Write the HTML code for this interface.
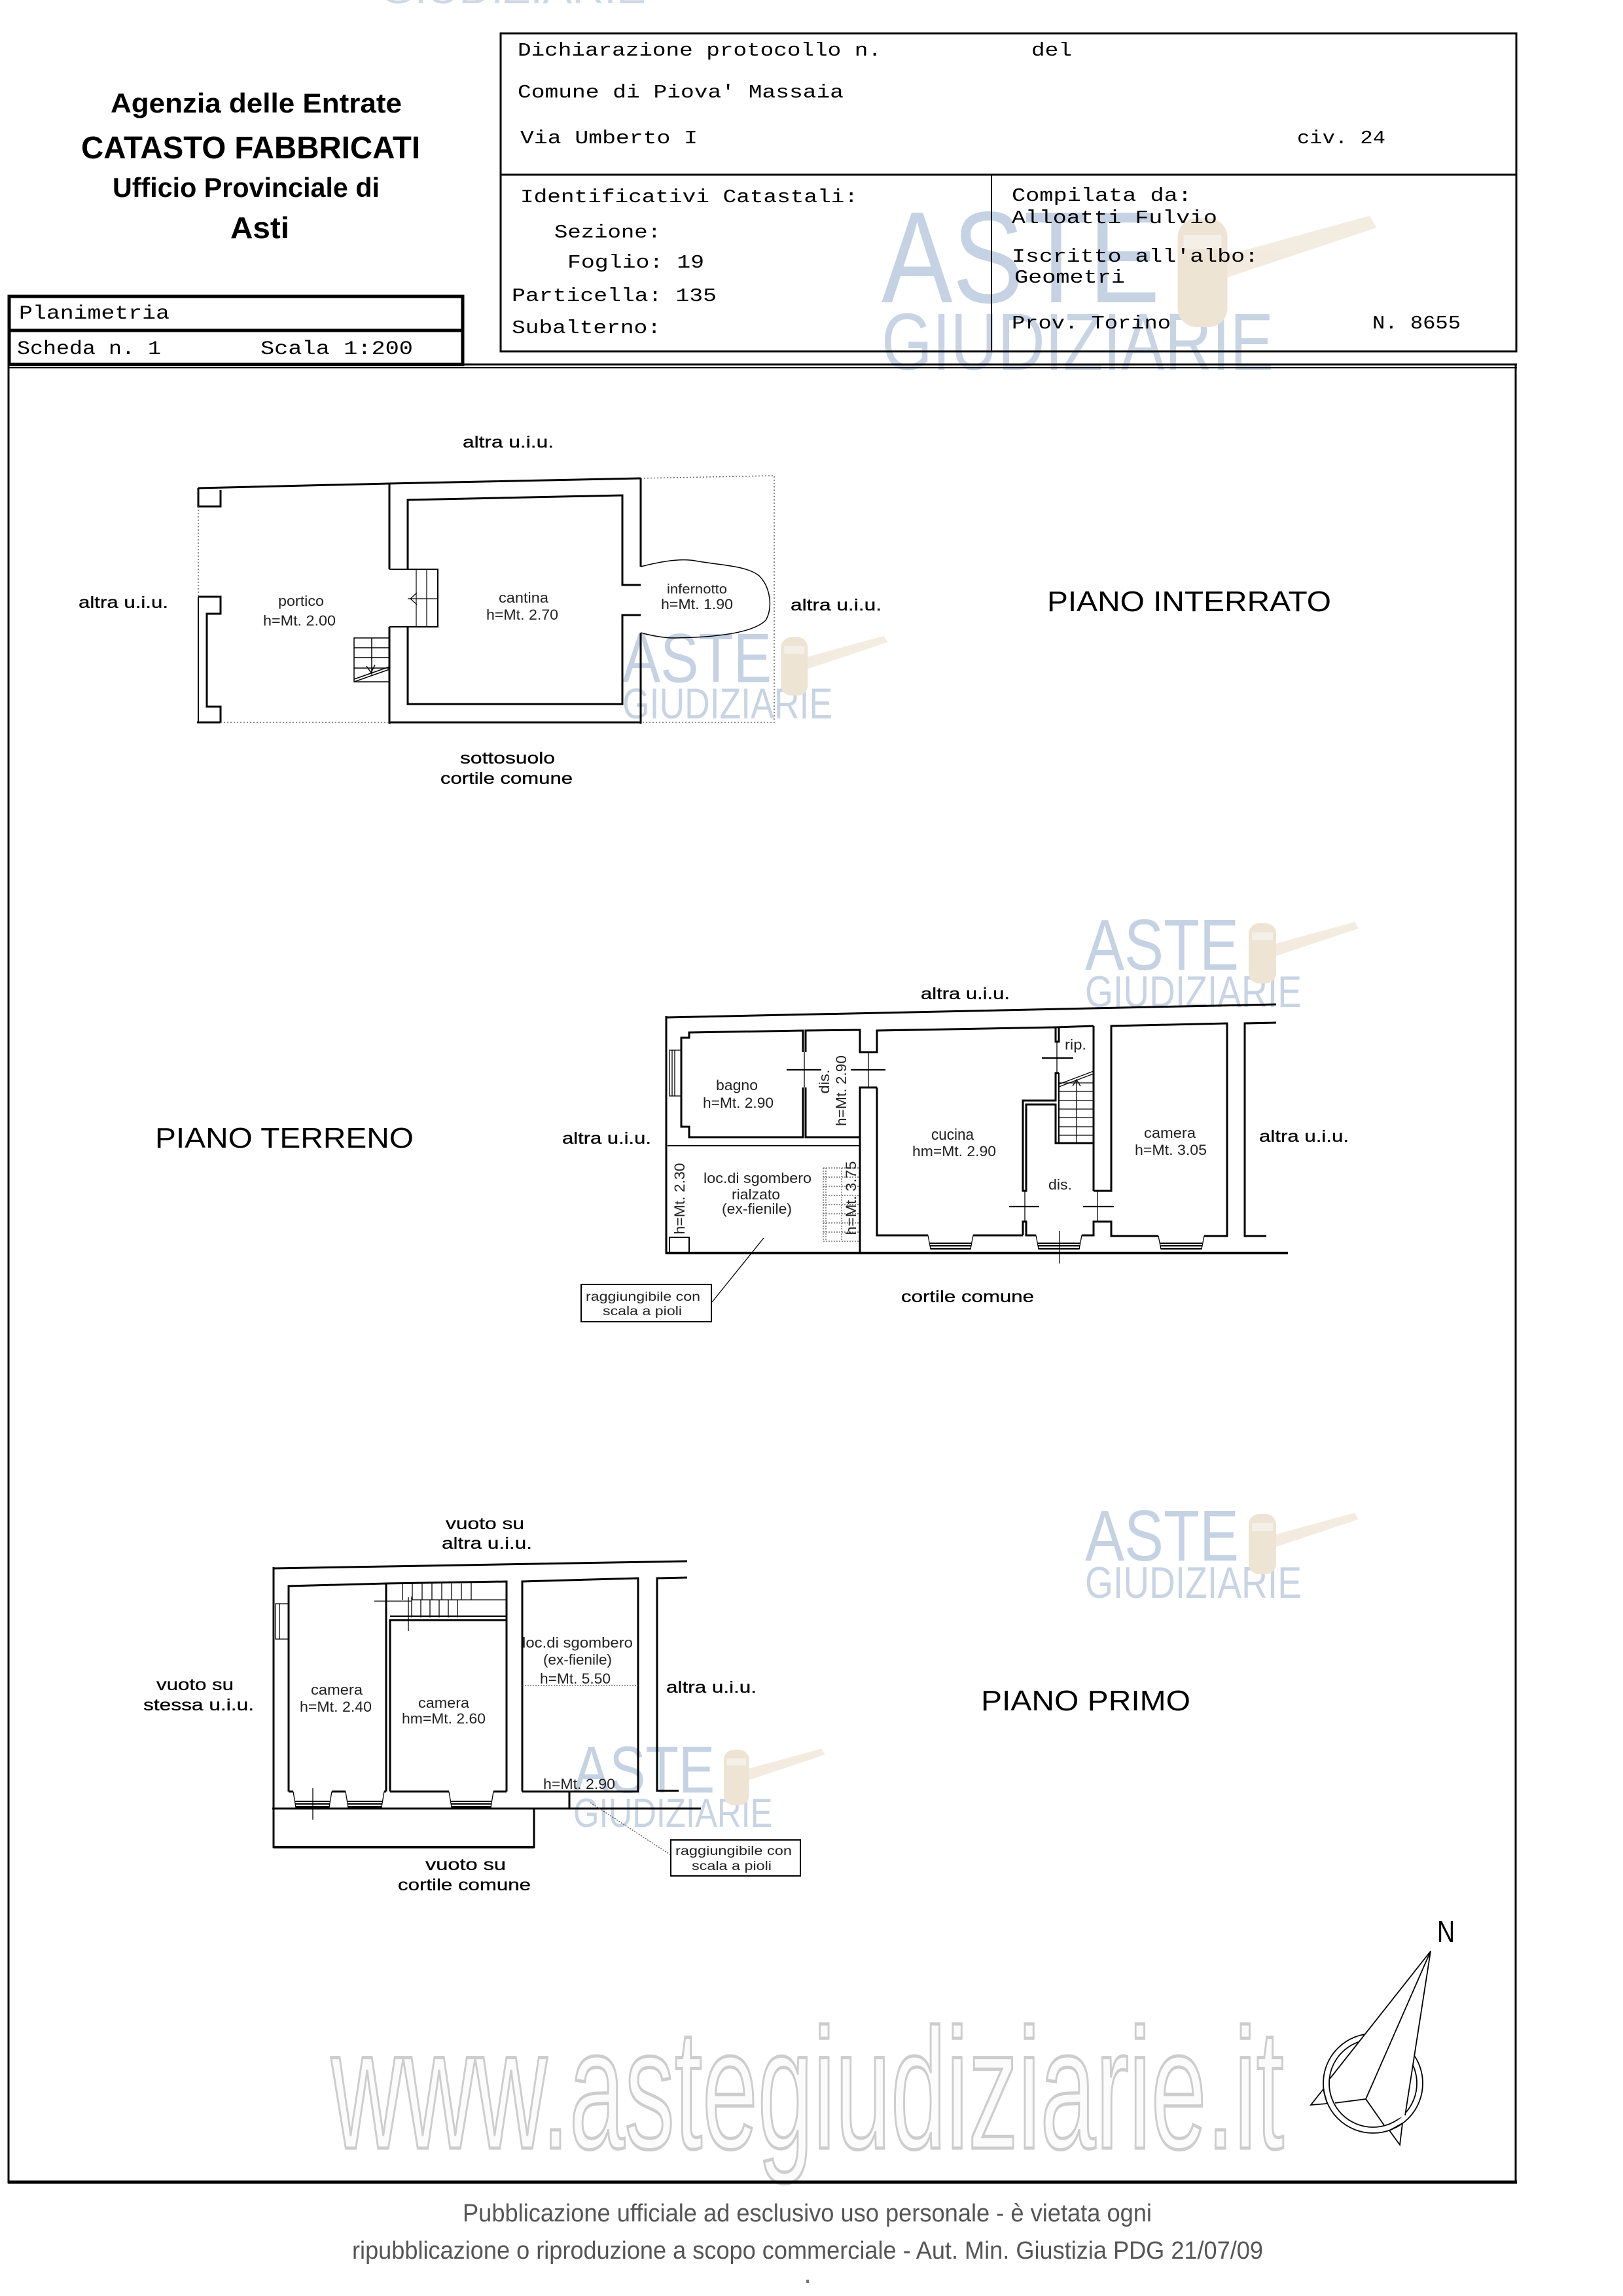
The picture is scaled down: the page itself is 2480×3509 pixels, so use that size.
<!DOCTYPE html>
<html><head><meta charset="utf-8"><style>
html,body{margin:0;padding:0;background:#fff;}
svg{display:block;}
text{font-family:"Liberation Sans",Arial,sans-serif;}
.m{font-family:"Liberation Mono","Courier New",monospace;}
</style></head><body>
<svg width="2480" height="3509" viewBox="0 0 2480 3509" xmlns="http://www.w3.org/2000/svg">
<rect x="0" y="0" width="2480" height="3509" fill="#fff"/>

<!-- cut-off top watermark -->
<text x="581" y="5" font-size="60" textLength="406" lengthAdjust="spacingAndGlyphs" fill="#cfd7e3">GIUDIZIARIE</text>

<!-- big www watermark -->
<text x="506" y="3283" font-size="262" textLength="1456" lengthAdjust="spacingAndGlyphs" fill="#fbfbfb" stroke="#cdcdcd" stroke-width="5">www.astegiudiziarie.it</text>

<!-- ASTE logos -->
<g transform="translate(1347,319) scale(1.81)" opacity="0.75">
 <text x="0" y="79" font-size="110" textLength="235" lengthAdjust="spacingAndGlyphs" fill="#b2c3da">ASTE</text>
 <text x="0" y="136" font-size="68" textLength="331" lengthAdjust="spacingAndGlyphs" fill="#b6c6dc">GIUDIZIARIE</text>
 <polygon points="288,40 412,6 418,16 292,58" fill="#efe5d6"/>
 <rect x="250" y="8" width="42" height="92" rx="16" fill="#e8dbc6"/>
 <rect x="255" y="22" width="32" height="12" fill="#f2ebe0"/>
</g>
<g transform="translate(951,966) scale(0.97)" opacity="0.75">
 <text x="0" y="79" font-size="110" textLength="235" lengthAdjust="spacingAndGlyphs" fill="#b2c3da">ASTE</text>
 <text x="0" y="136" font-size="68" textLength="331" lengthAdjust="spacingAndGlyphs" fill="#b6c6dc">GIUDIZIARIE</text>
 <polygon points="288,40 412,6 418,16 292,58" fill="#efe5d6"/>
 <rect x="250" y="8" width="42" height="92" rx="16" fill="#e8dbc6"/>
 <rect x="255" y="22" width="32" height="12" fill="#f2ebe0"/>
</g>
<g transform="translate(1658,1403)" opacity="0.75">
 <text x="0" y="79" font-size="110" textLength="235" lengthAdjust="spacingAndGlyphs" fill="#b2c3da">ASTE</text>
 <text x="0" y="136" font-size="68" textLength="331" lengthAdjust="spacingAndGlyphs" fill="#b6c6dc">GIUDIZIARIE</text>
 <polygon points="288,40 412,6 418,16 292,58" fill="#efe5d6"/>
 <rect x="250" y="8" width="42" height="92" rx="16" fill="#e8dbc6"/>
 <rect x="255" y="22" width="32" height="12" fill="#f2ebe0"/>
</g>
<g transform="translate(1658,2306)" opacity="0.75">
 <text x="0" y="79" font-size="110" textLength="235" lengthAdjust="spacingAndGlyphs" fill="#b2c3da">ASTE</text>
 <text x="0" y="136" font-size="68" textLength="331" lengthAdjust="spacingAndGlyphs" fill="#b6c6dc">GIUDIZIARIE</text>
 <polygon points="288,40 412,6 418,16 292,58" fill="#efe5d6"/>
 <rect x="250" y="8" width="42" height="92" rx="16" fill="#e8dbc6"/>
 <rect x="255" y="22" width="32" height="12" fill="#f2ebe0"/>
</g>
<g transform="translate(876,2667) scale(0.92)" opacity="0.75">
 <text x="0" y="79" font-size="110" textLength="235" lengthAdjust="spacingAndGlyphs" fill="#b2c3da">ASTE</text>
 <text x="0" y="136" font-size="68" textLength="331" lengthAdjust="spacingAndGlyphs" fill="#b6c6dc">GIUDIZIARIE</text>
 <polygon points="288,40 412,6 418,16 292,58" fill="#efe5d6"/>
 <rect x="250" y="8" width="42" height="92" rx="16" fill="#e8dbc6"/>
 <rect x="255" y="22" width="32" height="12" fill="#f2ebe0"/>
</g>

<!-- HEADER LEFT -->
<g font-weight="bold" fill="#000">
 <text x="169" y="172" font-size="42" textLength="445" lengthAdjust="spacingAndGlyphs">Agenzia delle Entrate</text>
 <text x="124" y="242" font-size="48" textLength="518" lengthAdjust="spacingAndGlyphs">CATASTO FABBRICATI</text>
 <text x="172" y="301" font-size="42" textLength="408" lengthAdjust="spacingAndGlyphs">Ufficio Provinciale di</text>
 <text x="352" y="364" font-size="46" textLength="90" lengthAdjust="spacingAndGlyphs">Asti</text>
</g>
<g fill="none" stroke="#000">
 <rect x="14" y="453" width="693" height="104" stroke-width="5"/>
 <line x1="12" y1="505" x2="709" y2="505" stroke-width="5"/>
</g>
<g class="m" fill="#000" font-size="30">
 <text class="m" x="29" y="487" textLength="230" lengthAdjust="spacingAndGlyphs">Planimetria</text>
 <text class="m" x="26" y="541" textLength="220" lengthAdjust="spacingAndGlyphs">Scheda n. 1</text>
 <text class="m" x="398" y="541" textLength="233" lengthAdjust="spacingAndGlyphs">Scala 1:200</text>
</g>

<!-- HEADER RIGHT BOX -->
<g fill="none" stroke="#000">
 <rect x="765" y="51" width="1552" height="486" stroke-width="3"/>
 <line x1="765" y1="267" x2="2317" y2="267" stroke-width="3"/>
 <line x1="1515" y1="267" x2="1515" y2="537" stroke-width="2"/>
</g>
<g fill="#000" font-size="29">
 <text class="m" x="791" y="85" textLength="556" lengthAdjust="spacingAndGlyphs">Dichiarazione protocollo n.</text>
 <text class="m" x="1576" y="85" textLength="62" lengthAdjust="spacingAndGlyphs">del</text>
 <text class="m" x="791" y="149" textLength="498" lengthAdjust="spacingAndGlyphs">Comune di Piova' Massaia</text>
 <text class="m" x="795" y="219" textLength="271" lengthAdjust="spacingAndGlyphs">Via Umberto I</text>
 <text class="m" x="1982" y="219" textLength="135" lengthAdjust="spacingAndGlyphs">civ. 24</text>
 <text class="m" x="795" y="309" textLength="516" lengthAdjust="spacingAndGlyphs">Identificativi Catastali:</text>
 <text class="m" x="847" y="363" textLength="163" lengthAdjust="spacingAndGlyphs">Sezione:</text>
 <text class="m" x="867" y="409" textLength="209" lengthAdjust="spacingAndGlyphs">Foglio: 19</text>
 <text class="m" x="782" y="460" textLength="313" lengthAdjust="spacingAndGlyphs">Particella: 135</text>
 <text class="m" x="782" y="509" textLength="228" lengthAdjust="spacingAndGlyphs">Subalterno:</text>
 <text class="m" x="1546" y="307" textLength="275" lengthAdjust="spacingAndGlyphs">Compilata da:</text>
 <text class="m" x="1546" y="341" textLength="314" lengthAdjust="spacingAndGlyphs">Alloatti Fulvio</text>
 <text class="m" x="1546" y="400" textLength="377" lengthAdjust="spacingAndGlyphs">Iscritto all'albo:</text>
 <text class="m" x="1550" y="432" textLength="169" lengthAdjust="spacingAndGlyphs">Geometri</text>
 <text class="m" x="1546" y="502" textLength="243" lengthAdjust="spacingAndGlyphs">Prov. Torino</text>
 <text class="m" x="2097" y="502" textLength="135" lengthAdjust="spacingAndGlyphs">N. 8655</text>
</g>

<!-- MAIN FRAME -->
<g fill="none" stroke="#000">
 <line x1="12" y1="557" x2="2318" y2="557" stroke-width="3"/>
 <line x1="12" y1="562" x2="2318" y2="562" stroke-width="2"/>
 <line x1="13" y1="556" x2="13" y2="3337" stroke-width="3"/>
 <line x1="2316" y1="556" x2="2316" y2="3337" stroke-width="3"/>
 <line x1="12" y1="3335" x2="2318" y2="3335" stroke-width="5"/>
</g>

<!-- ============ PIANO INTERRATO ============ -->
<g fill="none" stroke="#000" stroke-width="3">
 <polyline points="303,746 595,739 979,731"/>
 <polyline points="337,749 337,774 303,774 303,746"/>
 <polyline points="303,912 337,912 337,938 316,938 316,1080 337,1080 337,1104"/>
 <line x1="303" y1="912" x2="303" y2="1104" stroke-width="2"/>
 <line x1="301" y1="1104" x2="337" y2="1104"/>
 <line x1="595" y1="739" x2="595" y2="870"/>
 <line x1="595" y1="958" x2="595" y2="1106"/>
 <line x1="595" y1="1104" x2="979" y2="1104"/>
 <polyline points="623,870 623,764 951,757 951,894 979,894"/>
 <polyline points="979,940 951,940 951,1076 623,1076 623,958"/>
 <line x1="979" y1="731" x2="979" y2="866"/>
 <line x1="979" y1="967" x2="979" y2="1106"/>
</g>
<g fill="none" stroke="#666" stroke-width="1.5" stroke-dasharray="2 3">
 <line x1="303" y1="774" x2="303" y2="912"/>
 <line x1="337" y1="1104" x2="595" y2="1104"/>
 <polyline points="979,731 1183,727 1183,1104 979,1104"/>
</g>
<g fill="none" stroke="#000" stroke-width="2">
 <polyline points="595,870 669,870 669,958 595,958"/>
 <line x1="636" y1="870" x2="636" y2="958" stroke-width="1.2"/>
 <line x1="652" y1="870" x2="652" y2="958" stroke-width="1.2"/>
 <line x1="623" y1="915" x2="669" y2="915" stroke-width="1.2"/>
 <polyline points="637,906 627,915 637,924" stroke-width="1.2"/>
</g>
<g fill="none" stroke="#000" stroke-width="1.5">
 <rect x="541" y="975" width="54" height="67"/>
 <line x1="541" y1="990" x2="595" y2="990"/>
 <line x1="541" y1="1005" x2="595" y2="1005"/>
 <line x1="541" y1="1021" x2="595" y2="1021"/>
 <line x1="568" y1="975" x2="568" y2="1031"/>
 <line x1="541" y1="1042" x2="595" y2="1023"/>
 <line x1="541" y1="1038" x2="595" y2="1019"/>
 <polyline points="560,1018 567,1028 573,1016"/>
 <path d="M979,866 C1010,858 1040,853 1062,857 C1100,864 1140,864 1160,880 C1178,898 1181,930 1170,948 C1152,966 1100,974 1031,975 C1010,975 990,970 979,967"/>
</g>
<g fill="#000">
 <text x="707" y="684" font-size="25" textLength="139" lengthAdjust="spacingAndGlyphs" stroke="#000" stroke-width="0.3">altra u.i.u.</text>
 <text x="120" y="929" font-size="25" textLength="137" lengthAdjust="spacingAndGlyphs" stroke="#000" stroke-width="0.3">altra u.i.u.</text>
 <text x="1208" y="933" font-size="25" textLength="139" lengthAdjust="spacingAndGlyphs" stroke="#000" stroke-width="0.3">altra u.i.u.</text>
 <text x="703" y="1167" font-size="25" textLength="145" lengthAdjust="spacingAndGlyphs" stroke="#000" stroke-width="0.3">sottosuolo</text>
 <text x="673" y="1198" font-size="25" textLength="202" lengthAdjust="spacingAndGlyphs" stroke="#000" stroke-width="0.3">cortile comune</text>
 <text x="1600" y="934" font-size="44" textLength="434" lengthAdjust="spacingAndGlyphs">PIANO INTERRATO</text>
</g>
<g fill="#222" font-size="22">
 <text x="425" y="926" textLength="70" lengthAdjust="spacingAndGlyphs">portico</text>
 <text x="402" y="956" textLength="111" lengthAdjust="spacingAndGlyphs">h=Mt. 2.00</text>
 <text x="762" y="921" textLength="76" lengthAdjust="spacingAndGlyphs">cantina</text>
 <text x="743" y="947" textLength="110" lengthAdjust="spacingAndGlyphs">h=Mt. 2.70</text>
 <text x="1019" y="907" font-size="20" textLength="92" lengthAdjust="spacingAndGlyphs">infernotto</text>
 <text x="1010" y="931" textLength="110" lengthAdjust="spacingAndGlyphs">h=Mt. 1.90</text>
</g>

<!-- ============ PIANO TERRENO ============ -->
<g fill="none" stroke="#000" stroke-width="3">
 <line x1="1017" y1="1555" x2="1950" y2="1535"/>
 <line x1="1018" y1="1553" x2="1018" y2="1917"/>
 <line x1="1018" y1="1915" x2="1968" y2="1915" stroke-width="4"/>
 <polyline points="1227,1608 1227,1575 1053,1578 1053,1586 1041,1586 1041,1722 1053,1722 1053,1738 1227,1738 1227,1662"/>
 <polyline points="1231,1608 1231,1575 1314,1574 1314,1608 1340,1608 1340,1575 1613,1570 1671,1568"/>
 <polyline points="1231,1662 1231,1738 1314,1738"/>
 <polyline points="1340,1662 1314,1662 1314,1915"/>
 <line x1="1020" y1="1751" x2="1314" y2="1751" stroke-width="2"/>
 <polyline points="1340,1662 1340,1888 1418,1888"/>
 <line x1="1487" y1="1888" x2="1563" y2="1888"/>
 <polyline points="1613,1570 1613,1592 1618,1592 1618,1570"/>
 <polyline points="1618,1640 1613,1640 1613,1682 1563,1682 1563,1820 1568,1820 1568,1688 1613,1688 1613,1747 1671,1747"/>
 <line x1="1618" y1="1640" x2="1618" y2="1747" stroke-width="2"/>
 <line x1="1671" y1="1568" x2="1671" y2="1820"/>
 <polyline points="1671,1820 1698,1820 1698,1568 1875,1564 1875,1889 1840,1889"/>
 <polyline points="1563,1888 1563,1867 1568,1867 1568,1888 1583,1888"/>
 <polyline points="1653,1888 1671,1888 1671,1867 1698,1867 1698,1889 1770,1889"/>
 <polyline points="1950,1563 1902,1564 1902,1889 1935,1889"/>
</g>
<g fill="none" stroke="#000" stroke-width="1.3">
 <line x1="1229" y1="1608" x2="1229" y2="1662"/>
 <line x1="1327" y1="1608" x2="1327" y2="1662"/>
 <line x1="1615" y1="1592" x2="1615" y2="1640"/>
 <line x1="1566" y1="1820" x2="1566" y2="1867"/>
 <line x1="1677" y1="1820" x2="1677" y2="1867"/>
 <line x1="1619" y1="1881" x2="1619" y2="1931"/>
 <line x1="1645" y1="1650" x2="1645" y2="1747"/>
 <line x1="1618" y1="1655" x2="1671" y2="1655"/>
 <line x1="1618" y1="1668" x2="1671" y2="1668"/>
 <line x1="1618" y1="1682" x2="1671" y2="1682"/>
 <line x1="1618" y1="1695" x2="1671" y2="1695"/>
 <line x1="1618" y1="1708" x2="1671" y2="1708"/>
 <line x1="1618" y1="1722" x2="1671" y2="1722"/>
 <line x1="1618" y1="1735" x2="1671" y2="1735"/>
 <line x1="1618" y1="1657" x2="1671" y2="1637"/>
 <line x1="1618" y1="1661" x2="1671" y2="1641"/>
 <polyline points="1639,1660 1645,1650 1651,1660"/>
 <rect x="1023" y="1605" width="18" height="70"/>
 <line x1="1027" y1="1605" x2="1027" y2="1675"/>
 <line x1="1031" y1="1605" x2="1031" y2="1675"/>
 <rect x="1023" y="1891" width="30" height="24" stroke-width="2"/>
</g>
<g fill="none" stroke="#000" stroke-width="2.2">
 <line x1="1202" y1="1635" x2="1255" y2="1635"/>
 <line x1="1300" y1="1635" x2="1353" y2="1635"/>
 <line x1="1592" y1="1617" x2="1640" y2="1617"/>
 <line x1="1542" y1="1844" x2="1588" y2="1844"/>
 <line x1="1655" y1="1844" x2="1702" y2="1844"/>
</g>
<g fill="none" stroke="#000" stroke-width="1.3">
 <polyline points="1418,1888 1422,1909 1483,1909 1487,1888"/>
 <polyline points="1583,1888 1587,1909 1649,1909 1653,1888"/>
 <polyline points="1770,1889 1774,1909 1836,1909 1840,1889"/>
</g>
<g stroke="#000" stroke-width="2">
 <line x1="1421" y1="1900" x2="1484" y2="1900"/><line x1="1421" y1="1904" x2="1484" y2="1904"/><line x1="1421" y1="1908" x2="1484" y2="1908"/>
 <line x1="1586" y1="1900" x2="1650" y2="1900"/><line x1="1586" y1="1904" x2="1650" y2="1904"/><line x1="1586" y1="1908" x2="1650" y2="1908"/>
 <line x1="1773" y1="1900" x2="1837" y2="1900"/><line x1="1773" y1="1904" x2="1837" y2="1904"/><line x1="1773" y1="1908" x2="1837" y2="1908"/>
</g>
<g fill="none" stroke="#555" stroke-width="1.2" stroke-dasharray="2 2">
 <line x1="1258" y1="1785" x2="1258" y2="1897"/>
 <line x1="1262" y1="1785" x2="1262" y2="1897"/>
 <line x1="1286" y1="1785" x2="1286" y2="1897"/>
 <line x1="1258" y1="1785" x2="1313" y2="1785"/>
 <line x1="1258" y1="1799" x2="1313" y2="1799"/>
 <line x1="1258" y1="1813" x2="1313" y2="1813"/>
 <line x1="1258" y1="1827" x2="1313" y2="1827"/>
 <line x1="1258" y1="1841" x2="1313" y2="1841"/>
 <line x1="1258" y1="1855" x2="1313" y2="1855"/>
 <line x1="1258" y1="1869" x2="1313" y2="1869"/>
 <line x1="1258" y1="1883" x2="1313" y2="1883"/>
 <line x1="1258" y1="1897" x2="1313" y2="1897"/>
</g>
<line x1="1167" y1="1892" x2="1088" y2="1990" stroke="#000" stroke-width="1.3"/>
<rect x="888" y="1963" width="199" height="57" fill="none" stroke="#000" stroke-width="2"/>
<g fill="#000">
 <text x="1407" y="1527" font-size="25" textLength="136" lengthAdjust="spacingAndGlyphs" stroke="#000" stroke-width="0.3">altra u.i.u.</text>
 <text x="859" y="1748" font-size="25" textLength="136" lengthAdjust="spacingAndGlyphs" stroke="#000" stroke-width="0.3">altra u.i.u.</text>
 <text x="1924" y="1745" font-size="25" textLength="137" lengthAdjust="spacingAndGlyphs" stroke="#000" stroke-width="0.3">altra u.i.u.</text>
 <text x="1377" y="1990" font-size="25" textLength="203" lengthAdjust="spacingAndGlyphs" stroke="#000" stroke-width="0.3">cortile comune</text>
 <text x="237" y="1754" font-size="44" textLength="395" lengthAdjust="spacingAndGlyphs">PIANO TERRENO</text>
</g>
<g fill="#222" font-size="22">
 <text x="1094" y="1666" textLength="64" lengthAdjust="spacingAndGlyphs">bagno</text>
 <text x="1074" y="1693" textLength="108" lengthAdjust="spacingAndGlyphs">h=Mt. 2.90</text>
 <text x="1240.5" y="1661" textLength="37" lengthAdjust="spacingAndGlyphs" transform="rotate(-90 1259 1653)">dis.</text>
 <text x="1231" y="1675" textLength="108" lengthAdjust="spacingAndGlyphs" transform="rotate(-90 1285 1667)">h=Mt. 2.90</text>
 <text x="1423" y="1742" font-size="24" textLength="65" lengthAdjust="spacingAndGlyphs">cucina</text>
 <text x="1394" y="1767" textLength="128" lengthAdjust="spacingAndGlyphs">hm=Mt. 2.90</text>
 <text x="1627" y="1604" textLength="33" lengthAdjust="spacingAndGlyphs">rip.</text>
 <text x="1602" y="1818" textLength="36" lengthAdjust="spacingAndGlyphs">dis.</text>
 <text x="1748" y="1739" textLength="79" lengthAdjust="spacingAndGlyphs">camera</text>
 <text x="1734" y="1765" textLength="110" lengthAdjust="spacingAndGlyphs">h=Mt. 3.05</text>
 <text x="1075" y="1808" textLength="165" lengthAdjust="spacingAndGlyphs">loc.di sgombero</text>
 <text x="1118" y="1833" textLength="74" lengthAdjust="spacingAndGlyphs">rialzato</text>
 <text x="1103" y="1855" textLength="107" lengthAdjust="spacingAndGlyphs">(ex-fienile)</text>
 <text x="983.5" y="1840" textLength="109" lengthAdjust="spacingAndGlyphs" transform="rotate(-90 1038 1832)">h=Mt. 2.30</text>
 <text x="1243.5" y="1839" textLength="113" lengthAdjust="spacingAndGlyphs" transform="rotate(-90 1300 1831)">h=Mt. 3.75</text>
 <text x="895" y="1988" font-size="19" textLength="175" lengthAdjust="spacingAndGlyphs">raggiungibile con</text>
 <text x="921" y="2010" font-size="19" textLength="121" lengthAdjust="spacingAndGlyphs">scala a pioli</text>
</g>

<!-- ============ PIANO PRIMO ============ -->
<g fill="none" stroke="#000" stroke-width="3">
 <line x1="418" y1="2397" x2="1050" y2="2386"/>
 <line x1="418" y1="2395" x2="418" y2="2766"/>
 <line x1="416" y1="2764" x2="1071" y2="2764"/>
 <polyline points="418,2764 418,2823 816,2823 816,2764"/>
 <line x1="418" y1="2823" x2="816" y2="2823" stroke-width="4"/>
 <polyline points="441,2738 441,2424 590,2420 590,2738"/>
 <polyline points="596,2738 596,2476 774,2476"/>
 <polyline points="590,2420 774,2417 774,2738"/>
 <polyline points="798,2738 798,2417 975,2412 975,2738 798,2738"/>
 <line x1="870" y1="2738" x2="870" y2="2764"/>
 <polyline points="1050,2411 1004,2412 1004,2737 1037,2737"/>
 <line x1="441" y1="2738" x2="448" y2="2738"/>
 <line x1="507" y1="2738" x2="528" y2="2738"/>
 <line x1="587" y1="2738" x2="590" y2="2738"/>
 <line x1="596" y1="2738" x2="686" y2="2738"/>
 <line x1="754" y1="2738" x2="774" y2="2738"/>
</g>
<g fill="none" stroke="#000" stroke-width="1.3">
 <line x1="615" y1="2420" x2="615" y2="2445"/><line x1="630" y1="2420" x2="630" y2="2445"/>
 <line x1="645" y1="2420" x2="645" y2="2445"/><line x1="660" y1="2420" x2="660" y2="2445"/>
 <line x1="675" y1="2420" x2="675" y2="2445"/><line x1="690" y1="2420" x2="690" y2="2445"/>
 <line x1="705" y1="2420" x2="705" y2="2445"/><line x1="720" y1="2419" x2="720" y2="2445"/>
 <line x1="643" y1="2445" x2="643" y2="2472"/><line x1="657" y1="2445" x2="657" y2="2472"/>
 <line x1="671" y1="2445" x2="671" y2="2472"/><line x1="685" y1="2445" x2="685" y2="2472"/>
 <line x1="699" y1="2445" x2="699" y2="2472"/>
 <line x1="629" y1="2445" x2="774" y2="2445"/>
 <line x1="596" y1="2470" x2="774" y2="2470" stroke-width="2"/>
 <line x1="572" y1="2447" x2="629" y2="2447"/>
 <line x1="624" y1="2441" x2="624" y2="2493"/>
 <line x1="629" y1="2440" x2="629" y2="2472"/>
 <rect x="421" y="2451" width="20" height="54"/>
 <line x1="427" y1="2451" x2="427" y2="2505"/>
 <line x1="478" y1="2733" x2="478" y2="2781"/>
 <polyline points="448,2738 452,2762 503,2762 507,2738"/>
 <polyline points="528,2738 532,2762 583,2762 587,2738"/>
 <polyline points="686,2738 690,2762 750,2762 754,2738"/>
</g>
<g stroke="#000" stroke-width="2">
 <line x1="451" y1="2753" x2="504" y2="2753"/><line x1="451" y1="2757" x2="504" y2="2757"/><line x1="451" y1="2761" x2="504" y2="2761"/>
 <line x1="531" y1="2753" x2="584" y2="2753"/><line x1="531" y1="2757" x2="584" y2="2757"/><line x1="531" y1="2761" x2="584" y2="2761"/>
 <line x1="689" y1="2753" x2="751" y2="2753"/><line x1="689" y1="2757" x2="751" y2="2757"/><line x1="689" y1="2761" x2="751" y2="2761"/>
</g>
<g fill="none" stroke="#555" stroke-width="1.3" stroke-dasharray="2 2">
 <line x1="798" y1="2576" x2="975" y2="2576"/>
 <line x1="902" y1="2755" x2="1025" y2="2835"/>
</g>
<rect x="1025" y="2812" width="198" height="55" fill="none" stroke="#000" stroke-width="2"/>
<g fill="#000">
 <text x="681" y="2337" font-size="25" textLength="120" lengthAdjust="spacingAndGlyphs" stroke="#000" stroke-width="0.3">vuoto su</text>
 <text x="675" y="2367" font-size="25" textLength="138" lengthAdjust="spacingAndGlyphs" stroke="#000" stroke-width="0.3">altra u.i.u.</text>
 <text x="239" y="2583" font-size="25" textLength="118" lengthAdjust="spacingAndGlyphs" stroke="#000" stroke-width="0.3">vuoto su</text>
 <text x="219" y="2614" font-size="25" textLength="169" lengthAdjust="spacingAndGlyphs" stroke="#000" stroke-width="0.3">stessa u.i.u.</text>
 <text x="1018" y="2587" font-size="25" textLength="138" lengthAdjust="spacingAndGlyphs" stroke="#000" stroke-width="0.3">altra u.i.u.</text>
 <text x="650" y="2858" font-size="25" textLength="123" lengthAdjust="spacingAndGlyphs" stroke="#000" stroke-width="0.3">vuoto su</text>
 <text x="608" y="2889" font-size="25" textLength="203" lengthAdjust="spacingAndGlyphs" stroke="#000" stroke-width="0.3">cortile comune</text>
 <text x="1499" y="2614" font-size="44" textLength="320" lengthAdjust="spacingAndGlyphs">PIANO PRIMO</text>
</g>
<g fill="#222" font-size="22">
 <text x="475" y="2590" textLength="79" lengthAdjust="spacingAndGlyphs">camera</text>
 <text x="458" y="2616" textLength="110" lengthAdjust="spacingAndGlyphs">h=Mt. 2.40</text>
 <text x="639" y="2610" textLength="78" lengthAdjust="spacingAndGlyphs">camera</text>
 <text x="614" y="2634" textLength="128" lengthAdjust="spacingAndGlyphs">hm=Mt. 2.60</text>
 <text x="798" y="2518" textLength="169" lengthAdjust="spacingAndGlyphs">loc.di sgombero</text>
 <text x="830" y="2544" textLength="105" lengthAdjust="spacingAndGlyphs">(ex-fienile)</text>
 <text x="825" y="2573" textLength="108" lengthAdjust="spacingAndGlyphs">h=Mt. 5.50</text>
 <text x="830" y="2734" textLength="110" lengthAdjust="spacingAndGlyphs">h=Mt. 2.90</text>
 <text x="1032" y="2835" font-size="19" textLength="178" lengthAdjust="spacingAndGlyphs">raggiungibile con</text>
 <text x="1057" y="2858" font-size="19" textLength="122" lengthAdjust="spacingAndGlyphs">scala a pioli</text>
</g>

<!-- NORTH ARROW -->
<g fill="none" stroke="#000" stroke-width="1.8">
 <circle cx="2098" cy="3184" r="76"/>
 <circle cx="2098" cy="3184" r="67"/>
 <polygon points="2186,2982 2032,3177 2040,3214 2087,3208 2115,3248 2147,3233" fill="#fff" stroke="none"/>
 <line x1="2186" y1="2982" x2="2032" y2="3177"/>
 <line x1="2186" y1="2982" x2="2087" y2="3208"/>
 <line x1="2186" y1="2982" x2="2147" y2="3233"/>
 <polyline points="2040,3214 2087,3208 2115,3248"/>
 <polygon points="2022,3193 2003,3217 2028,3215"/>
 <polygon points="2123,3256 2139,3278 2143,3245"/>
</g>
<text x="2196" y="2968" font-size="46" textLength="27" lengthAdjust="spacingAndGlyphs" fill="#000">N</text>

<!-- FOOTER -->
<g fill="#555" font-size="38">
 <text x="707" y="3395" textLength="1053" lengthAdjust="spacingAndGlyphs">Pubblicazione ufficiale ad esclusivo uso personale - è vietata ogni</text>
 <text x="538" y="3452" textLength="1392" lengthAdjust="spacingAndGlyphs">ripubblicazione o riproduzione a scopo commerciale - Aut. Min. Giustizia PDG 21/07/09</text>
</g>
<rect x="1232" y="3484" width="4" height="5" fill="#777"/>
</svg>
</body></html>
